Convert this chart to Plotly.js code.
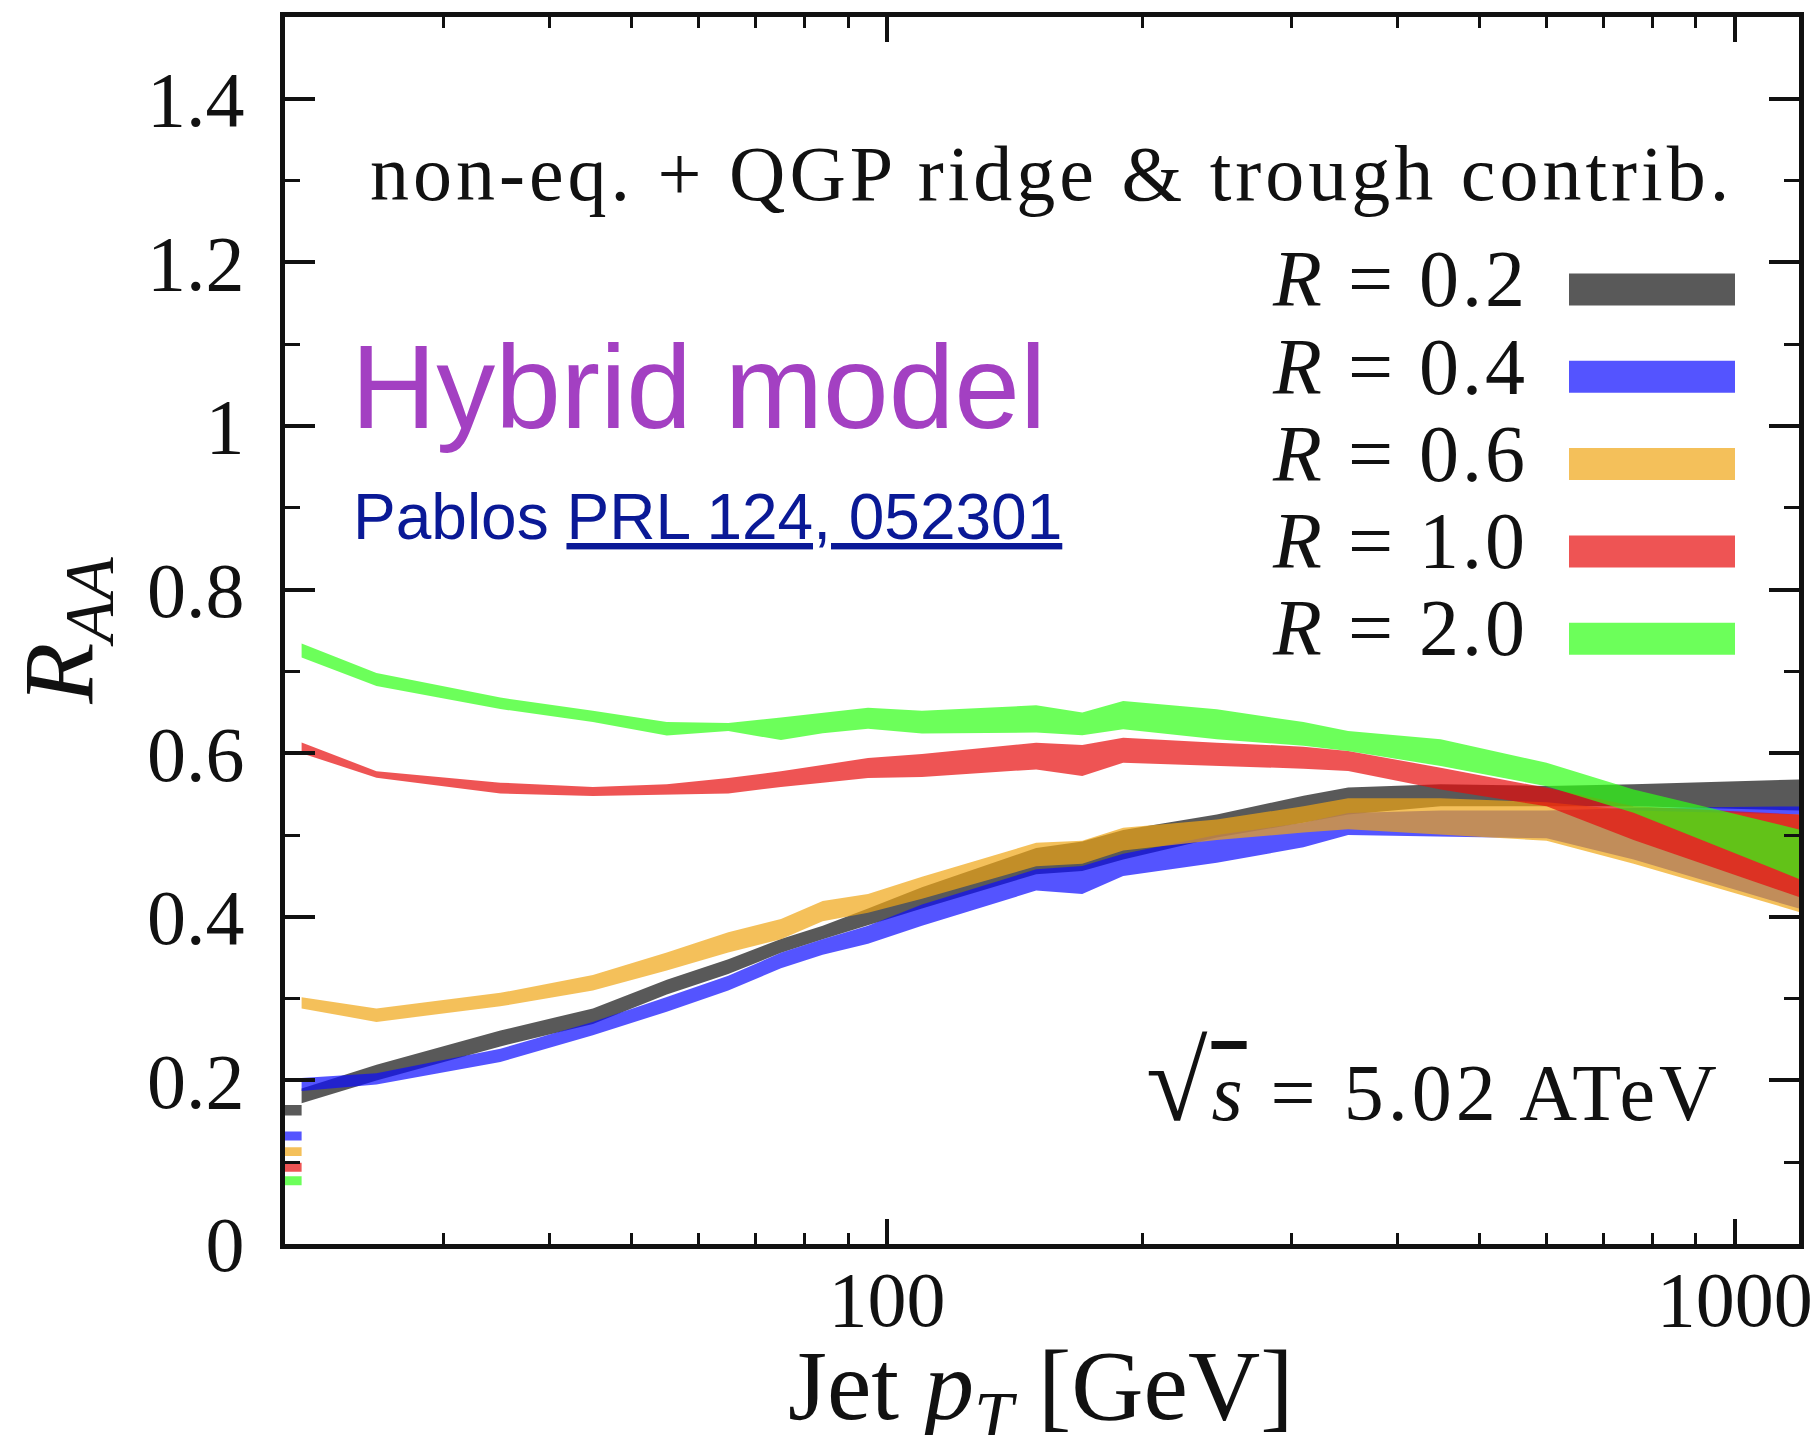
<!DOCTYPE html>
<html>
<head>
<meta charset="utf-8">
<script src="https://cdn.plot.ly/plotly-3.0.1.min.js"></script>
<style>
  html, body { margin: 0; padding: 0; background: #ffffff; }
  #chart { width: 1819px; height: 1435px; }
</style>
</head>
<body>
<div id="chart"></div>
<script>
// Jet pT grid (GeV) shared by all bands; the first two points form the
// short stub at the left edge, the rest the main band.
const pT = [19.4, 20.4, 20.4, 25, 35, 45, 55, 65, 75, 84, 95, 110, 150, 170, 190, 245, 310, 350, 450, 600, 760, 1200];
const stubEnd = 2; // number of points in the left-edge stub

// R_AA uncertainty bands: upper and lower edges for each jet radius
const r02Hi = [0.170, 0.170, 0.190, 0.219, 0.261, 0.288, 0.323, 0.348, 0.373, 0.389, 0.410, 0.436, 0.484, 0.492, 0.506, 0.525, 0.548, 0.558, 0.562, 0.560, 0.562, 0.568];
const r02Lo = [0.157, 0.157, 0.172, 0.200, 0.2415, 0.269, 0.305, 0.330, 0.356, 0.3727, 0.390, 0.410, 0.452, 0.456, 0.470, 0.497, 0.515, 0.525, 0.535, 0.535, 0.535, 0.530];

const r04Hi = [0.1375, 0.1375, 0.203, 0.2087, 0.2387, 0.2715, 0.302, 0.328, 0.356, 0.3727, 0.389, 0.415, 0.458, 0.462, 0.477, 0.500, 0.515, 0.527, 0.530, 0.530, 0.533, 0.535];
const r04Lo = [0.1266, 0.1266, 0.187, 0.195, 0.2224, 0.2551, 0.284, 0.310, 0.337, 0.3536, 0.367, 0.389, 0.432, 0.428, 0.450, 0.466, 0.485, 0.500, 0.4985, 0.496, 0.470, 0.409];

const r06Hi = [0.1184, 0.1184, 0.3017, 0.288, 0.307, 0.329, 0.3563, 0.381, 0.3974, 0.4193, 0.428, 0.449, 0.4904, 0.493, 0.509, 0.519, 0.535, 0.545, 0.545, 0.540, 0.530, 0.525];
const r06Lo = [0.1075, 0.1075, 0.288, 0.2715, 0.2906, 0.310, 0.3345, 0.3563, 0.3727, 0.3947, 0.405, 0.422, 0.4617, 0.465, 0.481, 0.494, 0.503, 0.507, 0.500, 0.493, 0.465, 0.405];

const r10Hi = [0.0993, 0.0993, 0.613, 0.578, 0.564, 0.5588, 0.562, 0.5697, 0.578, 0.586, 0.594, 0.599, 0.6129, 0.610, 0.619, 0.6129, 0.608, 0.6026, 0.5823, 0.5577, 0.535, 0.525];
const r10Lo = [0.0884, 0.0884, 0.600, 0.570, 0.5506, 0.5478, 0.549, 0.5506, 0.5588, 0.564, 0.5697, 0.571, 0.5802, 0.572, 0.5884, 0.5843, 0.581, 0.5781, 0.5557, 0.5352, 0.494, 0.423];

const r20Hi = [0.0828, 0.0828, 0.734, 0.698, 0.668, 0.652, 0.638, 0.637, 0.6436, 0.649, 0.6556, 0.652, 0.6586, 0.6497, 0.6639, 0.6537, 0.638, 0.6271, 0.617, 0.5884, 0.5557, 0.506];
const r20Lo = [0.0719, 0.0719, 0.717, 0.682, 0.654, 0.638, 0.6216, 0.627, 0.616, 0.6245, 0.630, 0.624, 0.6252, 0.6219, 0.6292, 0.617, 0.609, 0.6026, 0.5843, 0.5597, 0.5271, 0.445];

// Legend entries, in drawing order
const radiusLabels = ['0.2', '0.4', '0.6', '1.0', '2.0'];
const bandColors = [
  'rgba(18,18,18,0.7)',
  'rgba(12,12,255,0.7)',
  'rgba(240,165,20,0.7)',
  'rgba(231,12,12,0.7)',
  'rgba(45,255,20,0.7)'
];

// Axis ticks
const xMajorTicks = [100, 1000];
const xMajorText = ['100', '1000'];
const xMinorTicks = [30, 40, 50, 60, 70, 80, 90, 200, 300, 400, 500, 600, 700, 800, 900];

const bands = [
  [r02Hi, r02Lo],
  [r04Hi, r04Lo],
  [r06Hi, r06Lo],
  [r10Hi, r10Lo],
  [r20Hi, r20Lo]
];

// closed outline of one band piece (upper edge forward, lower edge back)
function outline(xs, hi, lo) {
  return {
    x: xs.concat(xs.slice().reverse()),
    y: hi.concat(lo.slice().reverse())
  };
}

const traces = bands.map(function (b, i) {
  const stub = outline(pT.slice(0, stubEnd), b[0].slice(0, stubEnd), b[1].slice(0, stubEnd));
  const main = outline(pT.slice(stubEnd), b[0].slice(stubEnd), b[1].slice(stubEnd));
  return {
    type: 'scatter',
    mode: 'lines',
    x: stub.x.concat([null], main.x),
    y: stub.y.concat([null], main.y),
    connectgaps: false,
    fill: 'toself',
    fillcolor: bandColors[i],
    line: { width: 0, color: bandColors[i] },
    hoverinfo: 'skip',
    showlegend: false,
    name: 'R = ' + radiusLabels[i]
  };
});

// Plot-area geometry in page pixels
const L = 285, Rt = 1799, T = 17, B = 1244;
const W = Rt - L, H = B - T;
function px(x) { return (x - L) / W; }
function py(y) { return (B - y) / H; }

const SERIF = 'Liberation Serif, Times New Roman, serif';
const SANS = 'Liberation Sans, Arial, Helvetica, sans-serif';
const INK = '#111111';

function textAt(text, xPix, baseline, size, family, color, anchor, descent) {
  return {
    text: text,
    xref: 'paper', yref: 'paper',
    x: px(xPix), y: py(baseline + descent * size),
    xanchor: anchor, yanchor: 'bottom',
    showarrow: false,
    borderpad: 0, borderwidth: 0,
    font: { family: family, size: size, color: color }
  };
}

const annotations = [
  textAt('<span style="letter-spacing:4px">non-eq. + QGP ridge &amp; trough contrib.</span>',
         370, 200, 78, SERIF, INK, 'left', 0.216),
  textAt('Hybrid model', 351, 428, 118, SANS, '#a340c2', 'left', 0.212),
  textAt('Pablos <span style="text-decoration:underline">PRL 124, 052301</span>',
         353, 539, 64, SANS, '#0a1996', 'left', 0.212),
  textAt('<span style="letter-spacing:4px"><span style="font-size:112px">\u221A</span><span style="text-decoration:overline"><i>s</i></span> = 5.02 ATeV</span>',
         1721, 1127, 80, SERIF, INK, 'right', 0.216),
  // horizontal axis title, placed by the top of its text box
  {
    text: 'Jet <i>p</i><sub><i>T</i></sub> [GeV]',
    xref: 'paper', yref: 'paper',
    x: px(1040), y: py(1330),
    xanchor: 'center', yanchor: 'top',
    showarrow: false, borderpad: 0, borderwidth: 0,
    font: { family: SERIF, size: 100, color: INK }
  }
];

const shapes = [];
radiusLabels.forEach(function (lab, i) {
  const base = 306 + i * 87.3;
  annotations.push(textAt('<span style="letter-spacing:3px"><i>R</i> = ' + lab + '</span>',
                          1528, base, 80, SERIF, INK, 'right', 0.216));
  const cy = 289.5 + i * 87.3;
  shapes.push({
    type: 'rect', xref: 'paper', yref: 'paper',
    x0: px(1569), x1: px(1735), y0: py(cy + 16), y1: py(cy - 16),
    fillcolor: bandColors[i], line: { width: 0 }
  });
});

const layout = {
  width: 1819,
  height: 1435,
  margin: { l: L, r: 1819 - Rt, t: T, b: 1435 - B, pad: 0 },
  paper_bgcolor: '#ffffff',
  plot_bgcolor: '#ffffff',
  showlegend: false,
  xaxis: {
    type: 'log',
    range: [Math.log10(19.5), Math.log10(1191)],
    tickmode: 'array',
    tickvals: xMajorTicks,
    ticktext: xMajorText,
    ticks: 'inside',
    ticklen: 25,
    tickwidth: 4,
    tickcolor: INK,
    minor: { tickmode: 'array', tickvals: xMinorTicks, ticks: 'inside', ticklen: 11, tickwidth: 3, tickcolor: INK, showgrid: false },
    showline: true,
    linewidth: 5,
    linecolor: INK,
    mirror: 'allticks',
    showgrid: false,
    zeroline: false,
    tickfont: { family: SERIF, size: 78, color: INK },
    ticklabelstandoff: -17,
    automargin: false
  },
  yaxis: {
    range: [0, 1.5],
    tickmode: 'linear',
    tick0: 0,
    dtick: 0.2,
    ticks: 'inside',
    ticklen: 30,
    tickwidth: 4,
    tickcolor: INK,
    minor: { tickmode: 'linear', tick0: 0, dtick: 0.1, ticks: 'inside', ticklen: 15, tickwidth: 3, tickcolor: INK, showgrid: false },
    showline: true,
    linewidth: 5,
    linecolor: INK,
    mirror: 'allticks',
    showgrid: false,
    zeroline: false,
    tickfont: { family: SERIF, size: 78, color: INK },
    ticklabelstandoff: 20,
    automargin: false,
    title: {
      text: '<i>R</i><sub><i>AA</i></sub>',
      font: { family: SERIF, size: 100, color: INK },
      standoff: 22
    }
  },
  annotations: annotations,
  shapes: shapes
};

Plotly.newPlot('chart', traces, layout, { staticPlot: true, displayModeBar: false });
</script>
</body>
</html>
